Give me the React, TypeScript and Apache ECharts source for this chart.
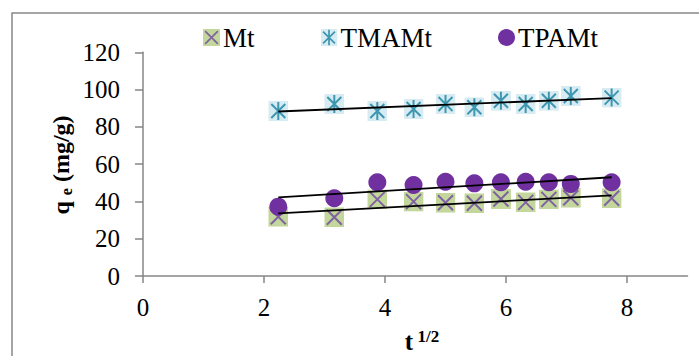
import React, { useEffect, useRef } from "react";
import * as echarts from "echarts";

const seriesNames = ["Mt", "TMAMt", "TPAMt"];
const xValues = [2.236, 3.162, 3.873, 4.472, 5.0, 5.477, 5.916, 6.325, 6.708, 7.071, 7.746];
const mtValues = [31.8, 31.5, 41.1, 39.9, 39.3, 39.0, 41.3, 39.5, 41.1, 42.0, 41.7];
const tmamtValues = [88.5, 92.3, 88.5, 89.6, 92.3, 90.5, 94.0, 92.3, 94.0, 96.6, 95.7];
const tpamtValues = [37.2, 41.7, 50.3, 48.8, 50.6, 49.7, 50.3, 50.6, 50.3, 49.4, 50.3];
const xTicks = [0, 2, 4, 6, 8];

const FONT = "'Liberation Serif', 'Times New Roman', serif";

const svgUrl = (svg: string) =>
  "image://data:image/svg+xml;charset=utf-8," + encodeURIComponent(svg);

const mtSymbol = svgUrl(
  "<svg xmlns='http://www.w3.org/2000/svg' width='20' height='20' viewBox='0 0 20 20'>" +
    "<rect width='20' height='20' fill='#c3d69b'/>" +
    "<path d='M2.5 2.5L17.5 17.5M17.5 2.5L2.5 17.5' stroke='#7f63a1' stroke-width='2' fill='none'/></svg>"
);
const tmamtSymbol = svgUrl(
  "<svg xmlns='http://www.w3.org/2000/svg' width='20' height='20' viewBox='0 0 20 20'>" +
    "<rect width='20' height='20' fill='#d6ebf2'/>" +
    "<path d='M10 1L10 19M3 3L17 17M17 3L3 17' stroke='#3e97b0' stroke-width='2' fill='none'/></svg>"
);

function trend(xs: number[], ys: number[]) {
  const n = xs.length;
  const mx = xs.reduce((a, b) => a + b, 0) / n;
  const my = ys.reduce((a, b) => a + b, 0) / n;
  let sxy = 0;
  let sxx = 0;
  for (let i = 0; i < n; i++) {
    sxy += (xs[i] - mx) * (ys[i] - my);
    sxx += (xs[i] - mx) * (xs[i] - mx);
  }
  const slope = sxy / sxx;
  const b = my - slope * mx;
  const x0 = Math.min(...xs);
  const x1 = Math.max(...xs);
  return [
    [x0, slope * x0 + b],
    [x1, slope * x1 + b],
  ];
}

const pairs = (ys: number[]) => xValues.map((x, i) => [x, ys[i]]);

export default function App() {
  const ref = useRef<HTMLDivElement>(null);
  useEffect(() => {
    document.body.style.margin = "0";
    const chart = echarts.init(ref.current!, null, { renderer: "svg" });
    const axisLineStyle = { color: "#868686", width: 1.5 };
    const trendStyle = { color: "#000", width: 1.8 };
    chart.setOption({
      animation: false,
      backgroundColor: "#fff",
      textStyle: { fontFamily: FONT },
      grid: { left: 143, right: 11.5, top: 52.3, bottom: 80 },
      legend: {
        left: 203,
        top: 24,
        padding: 0,
        itemGap: 66,
        itemWidth: 17,
        itemHeight: 17,
        textStyle: { fontFamily: FONT, fontSize: 27, color: "#000", padding: [0, 0, 0, -2] },
        data: [
          { name: seriesNames[0], icon: mtSymbol },
          { name: seriesNames[1], icon: tmamtSymbol },
          { name: seriesNames[2], icon: "circle" },
        ],
      },
      xAxis: {
        type: "value",
        min: 0,
        max: 9,
        interval: 2,
        axisLine: { lineStyle: axisLineStyle },
        axisTick: { show: true, length: 7, lineStyle: axisLineStyle, customValues: xTicks },
        axisLabel: {
          fontFamily: FONT,
          fontSize: 25,
          color: "#000",
          margin: 19,
          customValues: xTicks,
        },
        splitLine: { show: false },
      },
      yAxis: {
        type: "value",
        min: 0,
        max: 120,
        interval: 20,
        axisLine: { show: true, lineStyle: axisLineStyle },
        axisTick: { show: true, length: 8, lineStyle: axisLineStyle },
        axisLabel: { fontFamily: FONT, fontSize: 25, color: "#000", margin: 23 },
        splitLine: { show: false },
      },
      graphic: [
        {
          type: "rect",
          shape: { x: 12, y: 13, width: 720, height: 400 },
          style: { fill: "none", stroke: "#888", lineWidth: 1.5 },
          silent: true,
        },
        {
          type: "text",
          x: 61,
          y: 165,
          rotation: Math.PI / 2,
          style: {
            text: "{b|q }{sub|e}{b| (mg/g)}",
            align: "center",
            verticalAlign: "middle",
            rich: {
              b: { fontFamily: FONT, fontSize: 24, fontWeight: "bold", fill: "#000", lineHeight: 26 },
              sub: {
                fontFamily: FONT,
                fontSize: 16,
                fontWeight: "bold",
                fill: "#000",
                lineHeight: 16,
                verticalAlign: "bottom",
              },
            },
          },
        },
        {
          type: "text",
          x: 422,
          y: 341,
          style: {
            text: "{b|t}{sup| 1/2}",
            align: "center",
            verticalAlign: "middle",
            rich: {
              b: { fontFamily: FONT, fontSize: 25, fontWeight: "bold", fill: "#000", lineHeight: 26 },
              sup: {
                fontFamily: FONT,
                fontSize: 17,
                fontWeight: "bold",
                fill: "#000",
                lineHeight: 16,
                verticalAlign: "top",
              },
            },
          },
        },
      ],
      series: [
        {
          name: seriesNames[0],
          type: "scatter",
          symbol: mtSymbol,
          symbolSize: 20,
          itemStyle: { opacity: 1 },
          data: pairs(mtValues),
          z: 2,
        },
        {
          name: seriesNames[1],
          type: "scatter",
          symbol: tmamtSymbol,
          symbolSize: 20,
          itemStyle: { opacity: 1 },
          data: pairs(tmamtValues),
          z: 2,
        },
        {
          name: seriesNames[2],
          type: "scatter",
          symbol: "circle",
          symbolSize: 18,
          itemStyle: { color: "#7030a0", opacity: 1 },
          data: pairs(tpamtValues),
          z: 3,
        },
        ...[mtValues, tmamtValues, tpamtValues].map((ys, i) => ({
          name: "trend" + i,
          type: "line",
          data: trend(xValues, ys),
          showSymbol: false,
          symbol: "none",
          silent: true,
          lineStyle: trendStyle,
          z: 5,
        })),
      ],
    });
    return () => chart.dispose();
  }, []);
  return <div ref={ref} style={{ width: 699, height: 356 }} />;
}
